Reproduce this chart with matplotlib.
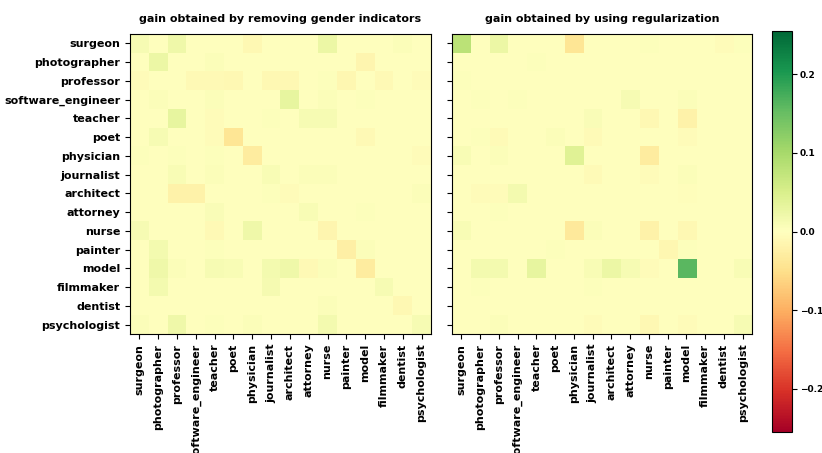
import numpy as np
import matplotlib
matplotlib.use("Agg")
import matplotlib.pyplot as plt

jobs = ["surgeon", "photographer", "professor", "software_engineer", "teacher", "poet",
        "physician", "journalist", "architect", "attorney", "nurse", "painter", "model",
        "filmmaker", "dentist", "psychologist"]

title_left = "gain obtained by removing gender indicators"
title_right = "gain obtained by using regularization"

gain_removing = [
    [0.010, 0.000, 0.020, 0.000, 0.000, 0.000, -0.010, 0.000, 0.000, 0.000, 0.025, 0.000, 0.000, 0.000, 0.005, 0.000],
    [0.000, 0.025, 0.000, 0.000, 0.005, 0.000, 0.000, 0.000, 0.000, 0.000, 0.000, 0.000, -0.015, 0.000, 0.000, 0.000],
    [-0.005, 0.000, 0.000, -0.008, -0.008, -0.010, 0.000, -0.010, -0.010, 0.000, 0.003, -0.012, 0.000, -0.008, 0.000, -0.005],
    [0.000, 0.005, 0.000, 0.000, 0.005, 0.000, 0.000, 0.000, 0.030, 0.000, 0.005, 0.000, 0.003, 0.000, 0.000, 0.000],
    [0.000, 0.000, 0.030, 0.000, -0.005, 0.000, 0.000, 0.003, 0.000, 0.010, 0.010, 0.000, 0.000, 0.000, 0.000, 0.000],
    [0.000, 0.010, 0.000, 0.000, -0.005, -0.040, 0.000, 0.000, 0.000, 0.000, 0.000, 0.000, -0.008, 0.000, 0.000, 0.000],
    [0.003, 0.000, 0.003, 0.000, 0.003, 0.000, -0.030, 0.000, 0.000, 0.000, 0.000, 0.000, 0.000, 0.000, 0.000, -0.005],
    [0.000, 0.000, 0.008, 0.000, 0.004, 0.000, 0.000, 0.008, 0.000, 0.005, 0.005, 0.000, 0.000, 0.000, 0.000, 0.000],
    [0.000, 0.000, -0.020, -0.020, 0.000, 0.000, 0.000, 0.003, -0.005, 0.000, 0.000, 0.000, 0.000, 0.000, 0.000, 0.005],
    [0.000, 0.000, 0.000, 0.000, 0.006, 0.000, 0.000, 0.000, 0.000, 0.008, 0.000, 0.000, 0.002, 0.000, 0.000, 0.000],
    [0.010, 0.000, 0.000, 0.000, -0.008, 0.000, 0.020, 0.000, 0.000, 0.000, -0.015, 0.000, 0.000, 0.000, 0.000, 0.000],
    [0.000, 0.015, 0.000, 0.000, 0.003, 0.000, 0.000, 0.000, 0.000, 0.000, 0.000, -0.025, 0.005, 0.000, 0.000, 0.000],
    [0.000, 0.020, 0.005, 0.000, 0.010, 0.008, 0.000, 0.015, 0.020, -0.008, 0.005, 0.000, -0.030, 0.000, 0.000, 0.000],
    [0.000, 0.015, 0.000, 0.000, 0.000, 0.000, 0.000, 0.012, 0.000, 0.000, 0.000, 0.000, 0.000, 0.010, 0.000, 0.000],
    [0.000, 0.000, 0.000, 0.000, 0.000, 0.000, 0.000, 0.000, 0.000, 0.000, 0.004, 0.000, 0.000, 0.000, -0.010, 0.000],
    [0.005, 0.000, 0.020, 0.000, 0.003, 0.000, 0.005, 0.000, 0.000, 0.000, 0.015, 0.000, 0.000, 0.000, 0.000, 0.010],
]

gain_regularization = [
    [0.080, 0.000, 0.025, 0.000, 0.000, 0.000, -0.040, 0.000, 0.000, 0.000, 0.003, 0.000, 0.000, 0.000, -0.005, 0.003],
    [0.000, 0.000, 0.000, 0.000, 0.002, 0.000, 0.000, 0.000, 0.000, 0.000, 0.000, 0.000, 0.000, 0.000, 0.000, 0.000],
    [0.003, 0.000, 0.000, 0.000, 0.000, 0.000, 0.000, 0.000, 0.000, 0.000, 0.000, 0.000, 0.000, 0.000, 0.000, 0.000],
    [0.000, 0.003, 0.000, 0.003, 0.000, 0.000, 0.000, 0.000, 0.000, 0.010, 0.000, 0.000, 0.005, 0.000, 0.000, 0.000],
    [0.000, 0.000, 0.000, 0.000, 0.000, 0.000, 0.000, 0.006, 0.000, 0.000, -0.010, 0.000, -0.020, 0.000, 0.000, 0.000],
    [0.000, 0.002, -0.006, 0.000, 0.000, 0.004, 0.000, -0.006, 0.000, 0.000, 0.000, 0.000, -0.005, 0.000, 0.000, 0.000],
    [0.008, 0.000, 0.005, 0.000, 0.000, 0.000, 0.040, 0.000, 0.000, 0.000, -0.030, 0.000, 0.000, 0.000, 0.000, 0.000],
    [0.000, 0.000, 0.000, 0.000, 0.000, 0.000, 0.000, -0.006, 0.000, 0.000, -0.004, 0.000, 0.005, 0.000, 0.000, 0.000],
    [0.000, -0.005, -0.005, 0.015, 0.000, 0.000, 0.000, 0.000, 0.000, 0.000, 0.000, 0.000, -0.003, 0.000, 0.000, 0.000],
    [0.000, 0.000, 0.002, 0.000, 0.000, 0.000, 0.000, 0.000, 0.000, 0.000, 0.000, 0.000, 0.000, 0.000, 0.000, 0.000],
    [0.008, 0.000, 0.000, 0.000, 0.000, 0.000, -0.035, 0.004, 0.000, 0.000, -0.020, 0.000, -0.010, 0.000, 0.000, 0.000],
    [0.000, 0.000, 0.000, 0.000, 0.000, 0.003, 0.000, 0.000, 0.000, 0.000, 0.000, -0.012, 0.003, 0.000, 0.000, 0.000],
    [0.000, 0.015, 0.015, 0.000, 0.030, 0.000, 0.000, 0.008, 0.025, 0.010, -0.005, 0.000, 0.160, 0.000, 0.000, 0.008],
    [0.000, 0.003, 0.000, 0.000, 0.000, 0.000, 0.000, 0.003, 0.000, 0.000, 0.000, 0.000, 0.000, 0.000, 0.000, 0.000],
    [0.000, 0.000, 0.000, 0.000, 0.000, 0.000, 0.000, 0.000, 0.000, 0.000, 0.000, 0.000, 0.000, 0.000, 0.000, 0.000],
    [0.000, 0.000, 0.005, 0.000, 0.000, 0.000, 0.000, -0.005, 0.000, 0.000, -0.010, 0.000, -0.005, 0.000, 0.000, 0.010],
]

vlim = 0.255
W, H = 822, 453
fig = plt.figure(figsize=(W / 100, H / 100), dpi=100)

def pos(x0, y0, x1, y1):
    return [x0 / W, 1 - y1 / H, (x1 - x0) / W, (y1 - y0) / H]

ax1 = fig.add_axes(pos(130, 34, 431, 334))
ax2 = fig.add_axes(pos(452, 34, 752, 334))
cax = fig.add_axes(pos(772, 31, 792, 432))

fp = dict(fontsize=8, fontweight="bold")
for ax, data, title, show_y in [(ax1, gain_removing, title_left, True),
                                (ax2, gain_regularization, title_right, False)]:
    im = ax.imshow(np.array(data), cmap="RdYlGn", vmin=-vlim, vmax=vlim,
                   aspect="auto", interpolation="nearest")
    ax.set_xticks(range(len(jobs)))
    ax.set_xticklabels(jobs, rotation=90, **fp)
    ax.set_yticks(range(len(jobs)))
    if show_y:
        ax.set_yticklabels(jobs, **fp)
    else:
        ax.set_yticklabels([])
    ax.set_title(title, fontsize=8, fontweight="bold", pad=9)
    ax.tick_params(length=3.5, width=0.8)

cb = fig.colorbar(im, cax=cax)
cb.set_ticks([-0.2, -0.1, 0.0, 0.1, 0.2])
cb.ax.tick_params(length=3.5, width=0.8, pad=2)
for t in cb.ax.get_yticklabels():
    t.set_fontweight("bold")
    t.set_fontsize(6.5)

fig.savefig("out.png", dpi=100)
